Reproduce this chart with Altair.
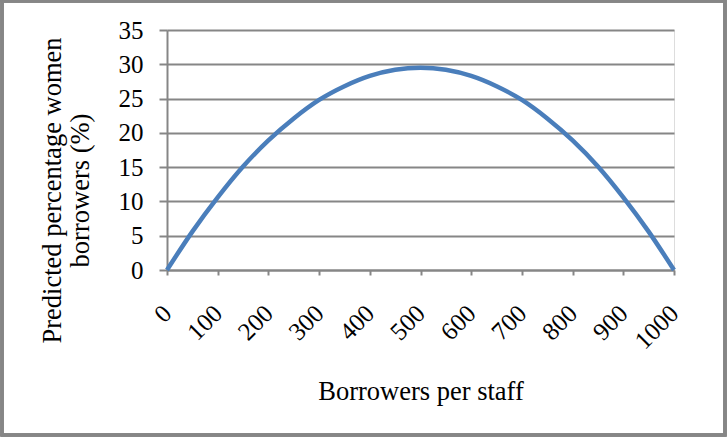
import altair as alt
import pandas as pd

# Borrowers per staff and the predicted share of women borrowers (%)
borrowers_per_staff = [0, 50, 100, 150, 200, 250, 300, 350, 400, 450, 500,
                       550, 600, 650, 700, 750, 800, 850, 900, 950, 1000]
pct_women = [0.0, 5.6, 10.6, 15.1, 18.9, 22.1, 24.8, 26.8, 28.3, 29.2, 29.5,
             29.2, 28.3, 26.8, 24.8, 22.1, 18.9, 15.1, 10.6, 5.6, 0.0]
x_ticks = [0, 100, 200, 300, 400, 500, 600, 700, 800, 900, 1000]
y_ticks = [0, 5, 10, 15, 20, 25, 30, 35]

df = pd.DataFrame({"staff": borrowers_per_staff, "pct": pct_women})

FONT = "'Times New Roman', 'Liberation Serif', 'DejaVu Serif', serif"
GREY = "#868686"

line = alt.Chart(df).mark_line(
    color="#4a7ebb", strokeWidth=4.5, interpolate="monotone", clip=False
).encode(
    x=alt.X(
        "staff:Q",
        scale=alt.Scale(domain=[0, 1000], nice=False, zero=False),
        axis=alt.Axis(
            values=x_ticks, format="d", grid=False, labelAngle=-45,
            labelAlign="right", labelBaseline="middle", labelPadding=34,
            tickSize=5, labelFont=FONT, labelFontSize=25, labelColor="black",
            domainColor=GREY, tickColor=GREY, domainWidth=2, tickWidth=2,
            title="Borrowers per staff", titleFont=FONT, titleFontSize=26.5,
            titleFontWeight="normal", titleColor="black",
            titleY=129, titleBaseline="alphabetic", labelFlush=False,
            labelOverlap=False,
        ),
    ),
    y=alt.Y(
        "pct:Q",
        scale=alt.Scale(domain=[0, 35], nice=False),
        axis=alt.Axis(
            values=y_ticks, grid=True, gridColor=GREY, gridWidth=2,
            tickSize=8, labelPadding=16,
            labelFont=FONT, labelFontSize=25, labelColor="black",
            domainColor=GREY, tickColor=GREY, domainWidth=2, tickWidth=2,
            title=["Predicted percentage women", "borrowers (%)"],
            titleFont=FONT, titleFontSize=26.5, titleFontWeight="normal",
            titleColor="black", titleAngle=270, titleAlign="center",
            titleBaseline="middle", titleX=-115, titleY=160, titleLineHeight=28,
            labelFlush=False,
        ),
    ),
)

# Frame around the whole chart area
frame = alt.Chart(df).mark_rect(
    fill=None, stroke=GREY, strokeWidth=2.5, clip=False
).encode(
    x=alt.value(-165), x2=alt.value(558),
    y=alt.value(-29), y2=alt.value(405),
)

chart = alt.layer(frame, line).properties(
    width=507, height=240,
    autosize=alt.AutoSizeParams(type="none"),
    padding={"left": 167, "top": 30, "right": 53, "bottom": 167},
).configure_view(stroke=None).configure(background="white")

chart.save("out.html", embed_options={"renderer": "svg", "actions": False})
